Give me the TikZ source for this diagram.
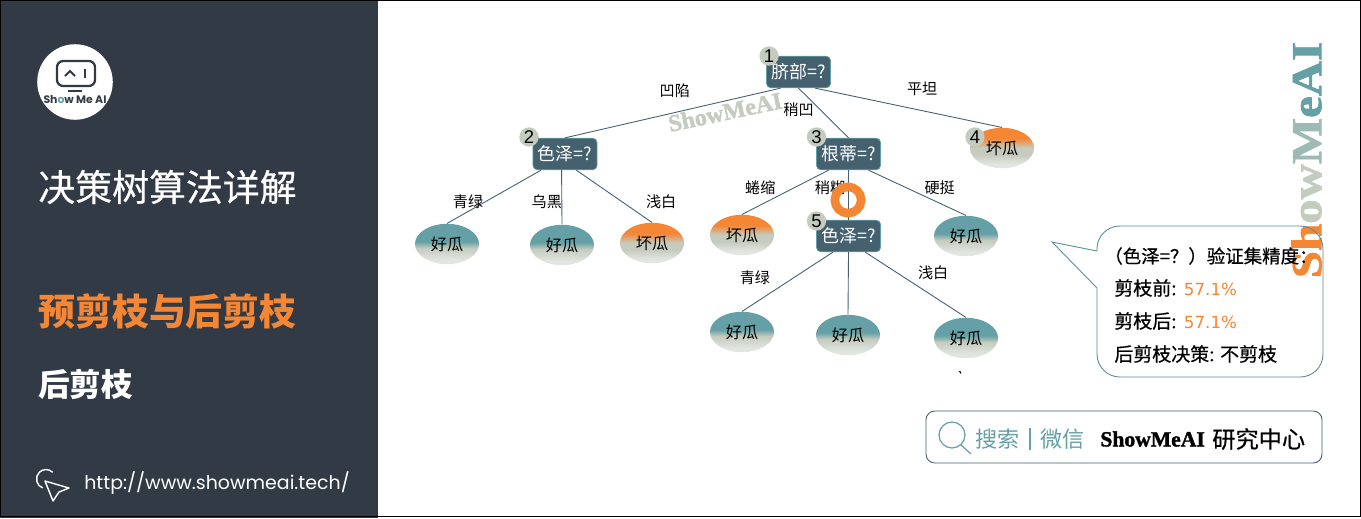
\documentclass[tikz,border=0pt]{standalone}
\usepackage{fontspec}
\setmainfont{Noto Sans CJK SC}
\newfontfamily\midfont[FakeBold=0.5]{Noto Sans CJK SC}
\newfontfamily\wmfont[BoldFeatures={FakeBold=1.6}]{Liberation Serif}
\newfontfamily\urlfont{Poppins}
\newfontfamily\numfont{DejaVu Sans}
\newfontfamily\tagfont{Liberation Sans}
\usetikzlibrary{shapes.geometric}
\definecolor{panel}{HTML}{323A45}
\definecolor{accent}{HTML}{F58634}
\definecolor{teal}{HTML}{64A0A6}
\definecolor{slate}{HTML}{45606E}
\definecolor{sage}{HTML}{C5CBBE}
\definecolor{mist}{HTML}{E2E6E1}
\pgfdeclareverticalshading{goodmelon}{100bp}{color(0bp)=(mist);color(30bp)=(mist);color(45bp)=(sage);color(53bp)=(teal);color(100bp)=(teal)}
\pgfdeclareverticalshading{badmelon}{100bp}{color(0bp)=(mist);color(30bp)=(mist);color(42bp)=(sage);color(50bp)=(sage);color(62bp)=(accent);color(100bp)=(accent)}
\tikzset{
	cond/.style={draw=teal,fill=slate,rounded corners=2.5pt,minimum width=36.5pt,minimum height=18pt,inner sep=0pt,text=white,font=\fontsize{10.2}{11}\selectfont},
	leaf/.style={shape=ellipse,minimum width=36.5pt,minimum height=23pt,inner sep=0pt,font=\fontsize{9.2}{10}\selectfont},
	goodleaf/.style={leaf,shade,shading=goodmelon},
	badleaf/.style={leaf,shade,shading=badmelon},
	tag/.style={shape=circle,fill=sage,minimum size=11pt,inner sep=0pt,font=\tagfont\fontsize{10.5}{11}\selectfont},
	lbl/.style={font=\fontsize{8.6}{10}\selectfont,inner sep=0pt},
	stem/.style={draw=slate,line width=0.5pt},
	say/.style={anchor=west,inner sep=0pt,font=\midfont\fontsize{10.8}{12}\selectfont}
}
\begin{document}
\begin{tikzpicture}[x=0.02cm,y=-0.02cm]
	\useasboundingbox (0,0) rectangle (1361,518);
	\fill[white] (0,0) rectangle (1361,518);
	\fill[panel] (0,0) rectangle (378,518);
	\draw[black,line width=0.8pt] (0.5,0.5) rectangle (1360.5,516.5);

	% left panel
	\fill[white] (75,82) circle [radius=21.5pt];
	\draw[panel,line width=1.3pt,rounded corners=3.5pt] (57,61) rectangle (95,86);
	\draw[panel,line width=1.1pt] (65,76) -- (70,71) -- (75,76);
	\draw[panel,line width=1.4pt] (85,69) -- (85,78);
	\draw[panel,line width=1pt] (68,91) -- (82,91);
	\draw (75,100) node (logo) [text=panel,inner sep=0pt] {\urlfont\bfseries\fontsize{6.2}{7}\selectfont Sh{\color{teal}o}w Me AI};
	\draw (38,187) node (title) [anchor=west,inner sep=0pt,text=white] {\midfont\fontsize{21}{24}\selectfont 决策树算法详解};
	\draw (38,311) node (chapter) [anchor=west,inner sep=0pt,text=accent] {\fontsize{21}{24}\selectfont\bfseries 预剪枝与后剪枝};
	\draw (38,384) node (section) [anchor=west,inner sep=0pt,text=white] {\fontsize{18}{20}\selectfont\bfseries 后剪枝};
	\draw[white,line width=0.8pt] (52.7,472.3) arc [start angle=45,end angle=250,radius=5.4pt];
	\draw[white,line width=0.8pt,line join=round] (45,481) -- (69,488) -- (59,492) -- (53,501) -- cycle;
	\draw (84,483) node (url) [anchor=west,inner sep=0pt,text=white] {\urlfont\fontsize{10.8}{12}\selectfont http://www.showmeai.tech/};

	% watermarks
	\draw (725,112) node (wmtree) [rotate=12,inner sep=0pt,text=sage] {\wmfont\bfseries\fontsize{13.6}{14}\selectfont ShowMeAI};
	\draw (1306.5,160) node (wmside) [rotate=90,xscale=1.14,inner sep=0pt] {\wmfont\bfseries\fontsize{24.4}{28}\selectfont\color{accent}Sh\color{sage}ow\color{teal!40!sage}M\color{teal}eAI};

	% tree
	\draw (798.5,72) node (root) [cond] {脐部=?};
	\draw (565,154) node (colour) [cond] {色泽=?};
	\draw (848.5,154) node (stalk) [cond] {根蒂=?};
	\draw (848.5,236) node (colourb) [cond] {色泽=?};
	\draw (1002,148) node (bada) [badleaf] {坏瓜};
	\draw (447,244) node (gooda) [goodleaf] {好瓜};
	\draw (562,245) node (goodb) [goodleaf] {好瓜};
	\draw (652,243) node (badb) [badleaf] {坏瓜};
	\draw (742,235) node (badc) [badleaf] {坏瓜};
	\draw (966,236) node (goodc) [goodleaf] {好瓜};
	\draw (742,332) node (goodd) [goodleaf] {好瓜};
	\draw (848,335) node (goode) [goodleaf] {好瓜};
	\draw (966,338) node (goodf) [goodleaf] {好瓜};
	\draw (769,56) node (taga) [tag] {1};
	\draw (529,137) node (tagb) [tag] {2};
	\draw (816.5,137) node (tagc) [tag] {3};
	\draw (975,137) node (tagd) [tag] {4};
	\draw (816.5,221) node (tage) [tag] {5};

	\path[stem] (root.222) edge node [lbl,text=black,shift={(2,-22)}] {凹陷} (colour.north);
	\path[stem] (root.south) edge node [lbl,text=black,shift={(-25,-3)}] {稍凹} (stalk.north);
	\path[stem] (root.-44) edge node [lbl,text=black,shift={(13.5,-19)}] {平坦} (bada.north);
	\path[stem] (colour.214) edge node [lbl,text=black,shift={(-26,5)}] {青绿} (gooda.north);
	\path[stem] (colour.258) edge node [lbl,text=black,shift={(-15,4.5)}] {乌黑} (goodb.north);
	\path[stem] (colour.-55) edge node [lbl,text=black,shift={(47,5.5)}] {浅白} (badb.north);
	\path[stem] (stalk.219) edge node [lbl,text=black,shift={(-25,-4.5)}] {蜷缩} (badc.north);
	\path[stem] (stalk.south) edge node [lbl,text=black,shift={(-18.5,-7)}] {稍糊} (colourb.north);
	\path[stem] (stalk.-39) edge node [lbl,text=black,shift={(22.5,-5)}] {硬挺} (goodc.north);
	\path[stem] (colourb.226) edge node [lbl,text=black,shift={(-32.5,-4)}] {青绿} (goodd.north);
	\path[stem] (colourb.south) edge (goode.north);
	\path[stem] (colourb.-44) edge node [lbl,text=black,shift={(17.5,-12)}] {浅白} (goodf.north);

	\draw (848,200) node (ring) [draw=accent,shape=circle,line width=4.9pt,minimum size=15pt,inner sep=0pt] {};
	\fill[black] (958.5,371) -- (961,371.5) -- (961,374) -- cycle;

	% callout
	\draw[teal!70!slate,line width=0.5pt] (1097,251) -- (1052,242) -- (1097,288)
		[rounded corners=13pt] -- (1097,377) -- (1323,377) -- (1323,226) -- (1097,226) -- (1097,251);
	\draw (1104,256) node (saya) [say,font=\midfont\fontsize{10.5}{12}\selectfont] {（色泽=？）验证集精度：};
	\draw (1114,288) node (sayb) [say] {剪枝前: \hspace{1pt}{\numfont\color{accent}\fontsize{9.5}{12}\selectfont 57.1\%}};
	\draw (1114,321) node (sayc) [say] {剪枝后: \hspace{1pt}{\numfont\color{accent}\fontsize{9.5}{12}\selectfont 57.1\%}};
	\draw (1114,354) node (sayd) [say] {后剪枝决策: 不剪枝};

	% search bar
	\draw[slate,line width=0.5pt,rounded corners=5pt] (926,411) rectangle (1322,463);
	\draw[teal,line width=0.7pt] (952,435) circle [radius=7.4pt];
	\draw[teal,line width=0.7pt] (961,445) -- (971,454);
	\draw (975,439) node (search) [anchor=west,inner sep=0pt,text=teal] {\fontsize{12.6}{14}\selectfont 搜索};
	\draw[teal,line width=0.6pt] (1030,428) -- (1030,450);
	\draw (1040,439) node (wechat) [anchor=west,inner sep=0pt,text=teal] {\fontsize{12.6}{14}\selectfont 微信};
	\draw (1100,439) node (brand) [anchor=west,inner sep=0pt] {\wmfont\bfseries\fontsize{12.3}{14}\selectfont ShowMeAI};
	\draw (1212,439) node (centre) [anchor=west,inner sep=0pt] {\midfont\fontsize{13.2}{14}\selectfont 研究中心};
\end{tikzpicture}
\end{document}
